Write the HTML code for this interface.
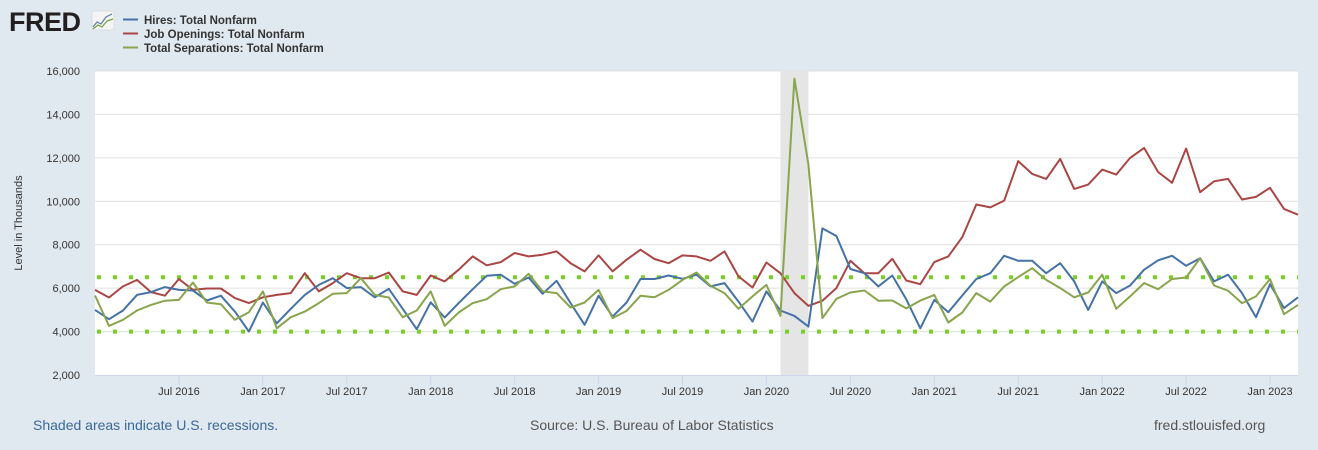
<!DOCTYPE html>
<html><head><meta charset="utf-8"><style>
html,body{margin:0;padding:0;background:#e1e9f0;}
body{width:1318px;height:450px;overflow:hidden;font-family:"Liberation Sans",Arial,sans-serif;}
svg{display:block}
</style></head><body>
<svg id="chart" width="1318" height="450" xmlns="http://www.w3.org/2000/svg">
<rect x="0" y="0" width="1318" height="450" fill="#e1e9f0"/>
<g>
<text x="9" y="31" font-family="Liberation Sans, sans-serif" font-weight="bold" font-size="27" fill="#231f20" letter-spacing="-0.5" transform="scale(1,1)">FRED</text>
<rect x="92" y="11" width="22" height="19" rx="2" fill="#f4f4f4" stroke="#ccc" stroke-width="0.5"/>
<polyline points="93,27 97,22 101,24 106,17 112,14" fill="none" stroke="#5b7fa6" stroke-width="1.2"/>
<polyline points="93,29 98,25 102,27 107,21 113,19" fill="none" stroke="#7aa13d" stroke-width="1.2"/>
</g>
<g font-size="11.5" font-weight="bold" fill="#333">
<g><line x1="123" y1="19.5" x2="138" y2="19.5" stroke="#4572a7" stroke-width="2"/><text x="144" y="24">Hires: Total Nonfarm</text></g>
<g><line x1="123" y1="33.5" x2="138" y2="33.5" stroke="#aa4643" stroke-width="2"/><text x="144" y="38">Job Openings: Total Nonfarm</text></g>
<g><line x1="123" y1="47.5" x2="138" y2="47.5" stroke="#89a54e" stroke-width="2"/><text x="144" y="52">Total Separations: Total Nonfarm</text></g>
</g>
<rect x="95" y="71" width="1203" height="304" fill="#ffffff"/>
<g id="grid"></g>
<g id="rec"></g>
<g id="refs"></g>
<g id="series"></g>
<g id="axes"></g>
<text transform="translate(22,223) rotate(-90)" text-anchor="middle" font-size="11" fill="#333">Level in Thousands</text>
<text x="33" y="430" font-size="14" fill="#3a679a">Shaded areas indicate U.S. recessions.</text>
<text x="530" y="430" font-size="14" fill="#555">Source: U.S. Bureau of Labor Statistics</text>
<text x="1154" y="430" font-size="14" fill="#555">fred.stlouisfed.org</text>
</svg>
<script>
const hires=[5000,4570,4970,5690,5820,6050,5920,5890,5430,5650,4920,4000,5340,4380,5050,5690,6150,6460,6000,6050,5580,5970,5050,4110,5350,4650,5310,5950,6570,6620,
6200,6490,5740,6340,5310,4310,5650,4690,5340,6420,6420,6580,6430,6620,6080,6230,5380,4460,5850,4970,4720,4230,8750,8400,6880,6690,6080,6580,5480,4150,
5460,4890,5660,6420,6690,7490,7260,7260,6690,7150,6310,5000,6310,5770,6120,6850,7280,7490,7030,7380,6310,6620,5770,4660,6180,5080,5580];
const openings=[5920,5570,6080,6380,5820,5650,6420,5920,5985,5985,5540,5310,5580,5690,5770,6690,5850,6230,6690,6460,6460,6720,5850,5690,6580,6310,6850,7460,7050,7200,
7620,7460,7540,7690,7150,6770,7510,6770,7310,7770,7340,7150,7510,7460,7260,7690,6540,6030,7180,6690,5770,5180,5420,6000,7260,6690,6690,7350,6350,6180,
7200,7460,8350,9850,9720,10030,11850,11260,11030,11950,10570,10770,11460,11230,12000,12460,11350,10850,12430,10420,10920,11030,10080,10200,10620,9650,9380];
const separations=[5660,4260,4540,4970,5230,5420,5460,6260,5340,5260,4540,4890,5850,4150,4660,4920,5310,5740,5770,6460,5690,5570,4660,4970,5850,4260,4880,5310,5490,5950,
6080,6660,5850,5770,5110,5340,5920,4620,4950,5650,5580,5920,6380,6720,6110,5770,5050,5620,6150,4720,15650,11700,4620,5510,5800,5890,5420,5430,5065,5425,
5690,4420,4880,5770,5380,6080,6510,6920,6380,6000,5580,5800,6620,5050,5620,6230,5950,6420,6490,7380,6120,5880,5310,5620,6420,4800,5230];
const yTicks=[2000,4000,6000,8000,10000,12000,14000,16000];
const xTickLabels=["Jul 2016","Jan 2017","Jul 2017","Jan 2018","Jul 2018","Jan 2019","Jul 2019","Jan 2020","Jul 2020","Jan 2021","Jul 2021","Jan 2022","Jul 2022","Jan 2023"];
const xTickMonths=[6,12,18,24,30,36,42,48,54,60,66,72,78,84];
const refLevels=[6500,4000];
const recession=[49.0,51.0];

const NS="http://www.w3.org/2000/svg";
const x0=95,dx=(1298-95)/86;
const X=i=>x0+i*dx;
const Y=v=>375-(v-2000)*(304/14000);
function mk(tag,attrs,parent){const e=document.createElementNS(NS,tag);for(const k in attrs)e.setAttribute(k,attrs[k]);document.getElementById(parent).appendChild(e);return e;}
yTicks.forEach(v=>{
  if(v>2000){const g=mk('line',{x1:95,x2:1298,y1:Y(v),y2:Y(v),stroke:'#e0e0e0','stroke-width':1},'grid');
  
  }
  const t=mk('text',{x:80,y:Y(v)+4,'text-anchor':'end','font-size':11,fill:'#333'},'axes');
  t.textContent=v.toLocaleString('en-US');
  
  
});
const r=mk('rect',{x:X(recession[0]),y:71,width:X(recession[1])-X(recession[0]),height:304,fill:'#e5e5e5'},'rec');


refLevels.forEach(v=>{const l=mk('line',{x1:97,x2:1298,y1:Y(v),y2:Y(v),stroke:'#77d125','stroke-width':4,'stroke-dasharray':'4 12'},'refs');

});
const ax=mk('line',{x1:95,x2:1298,y1:375.5,y2:375.5,stroke:'#ccd6eb','stroke-width':1},'axes');


xTickMonths.forEach((m,k)=>{
  const tk=mk('line',{x1:X(m),x2:X(m),y1:375,y2:385,stroke:'#ccd6eb','stroke-width':1},'axes');
  
  
  const t=mk('text',{x:X(m),y:395,'text-anchor':'middle','font-size':11,fill:'#333'},'axes');
  t.textContent=xTickLabels[k];
  
  
});
[[openings,'#aa4643','job-openings-line'],[hires,'#4572a7','hires-line'],[separations,'#89a54e','separations-line']].forEach(([d,c,n])=>{
  const p=mk('polyline',{points:d.map((v,i)=>X(i).toFixed(1)+','+Y(v).toFixed(1)).join(' '),fill:'none',stroke:c,'stroke-width':2,'stroke-linejoin':'round'},'series');
  
  
});
</script>
</body></html>
